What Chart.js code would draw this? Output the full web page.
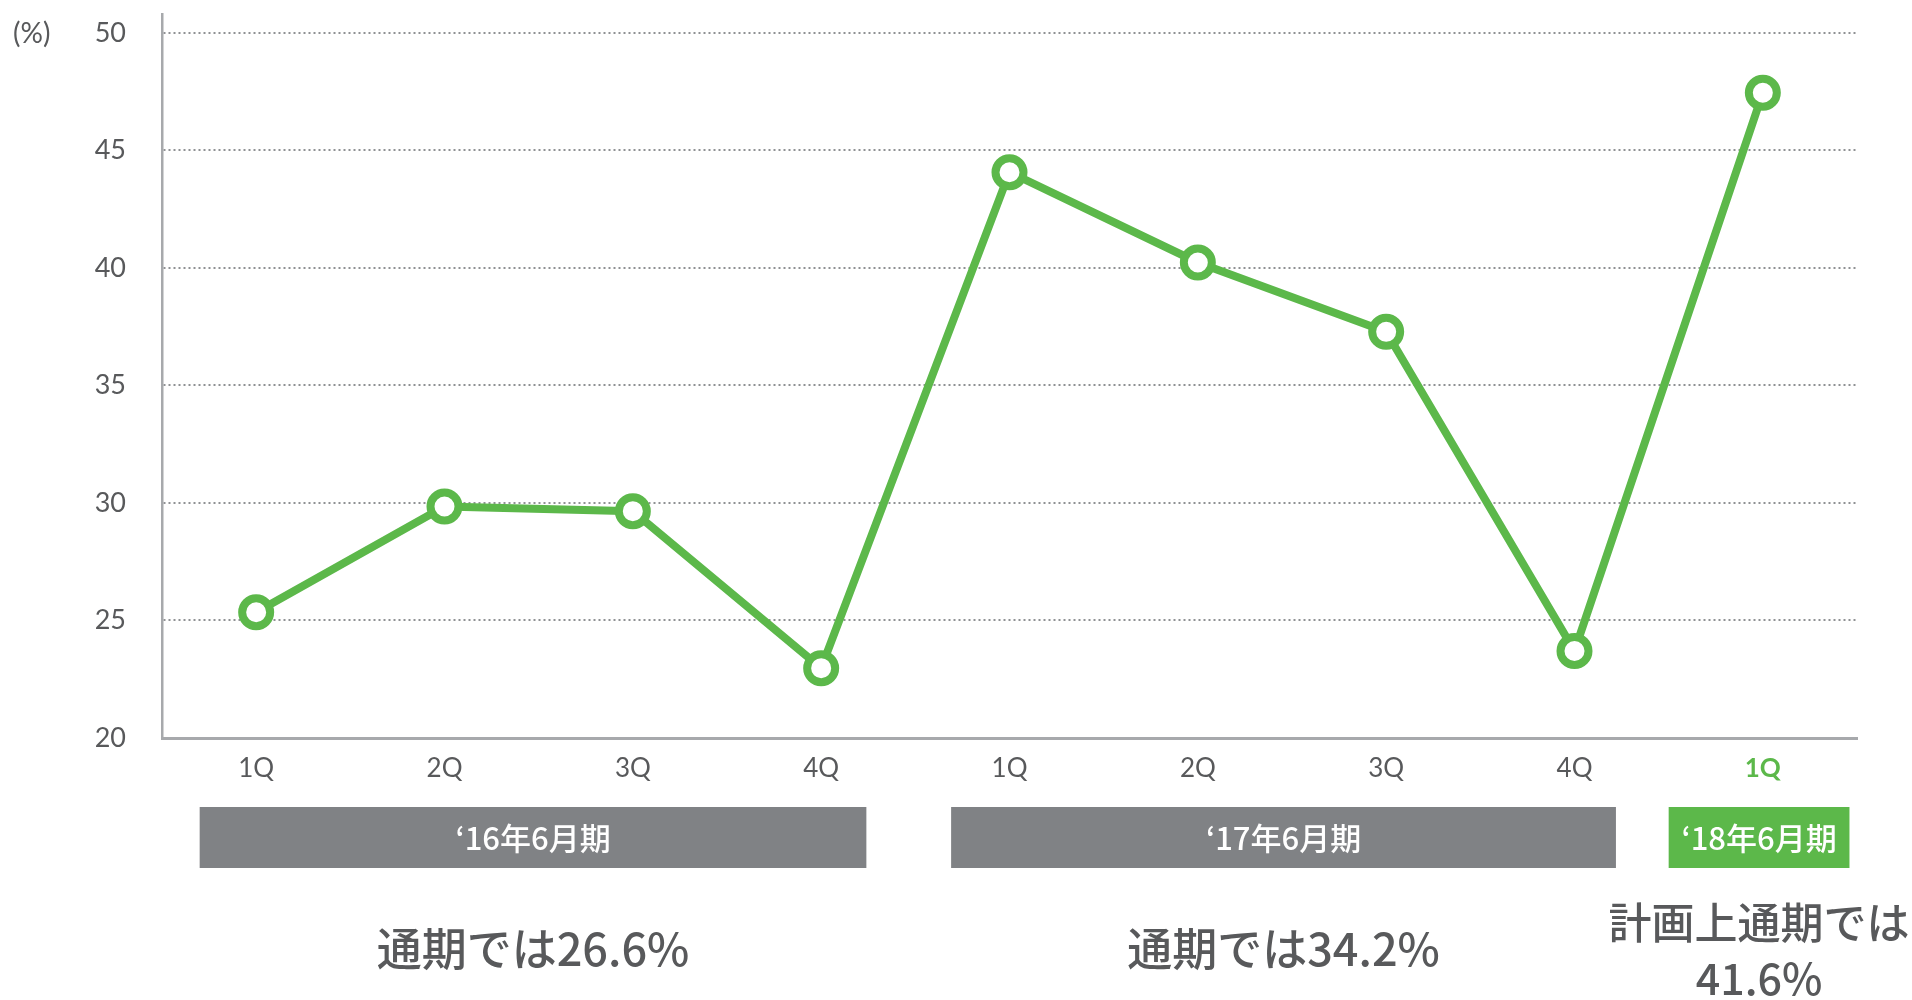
<!DOCTYPE html>
<html>
<head>
<meta charset="utf-8">
<script src="https://cdn.jsdelivr.net/npm/chart.js@4"></script>
<style>
  html, body { margin: 0; padding: 0; background: #fff; }
  #wrap { width: 1912px; height: 1000px; position: relative; }
</style>
</head>
<body>
<div id="wrap"><canvas id="ratioChart"></canvas></div>
<script>
// quarters and values (%)
const quarters = ['1Q', '2Q', '3Q', '4Q', '1Q', '2Q', '3Q', '4Q', '1Q'];
const ratios = [25.35, 29.85, 29.65, 22.97, 44.07, 40.23, 37.28, 23.7, 47.45];
const yTicks = [20, 25, 30, 35, 40, 45, 50];

// fiscal year groups under the axis
const groupLabels = ['‘16年6月期', '‘17年6月期', '‘18年6月期'];
const groupFirst = [0, 4, 8];
const groupLast = [3, 7, 8];
const groupSummary = [['通期では26.6%'], ['通期では34.2%'], ['計画上通期では', '41.6%']];

const GREEN = '#5cb84a';
const GREY_TEXT = '#58595b';
const JP = "'Noto Sans CJK JP', 'Noto Sans', sans-serif";
const LAT = "Lato, 'Noto Sans', sans-serif";

const groupsPlugin = {
    id: 'groups',
    afterDraw(chart) {
        const ctx = chart.ctx;
        const x = chart.scales.x;
        const area = chart.chartArea;
        const w = x.getPixelForValue(1) - x.getPixelForValue(0);
        const padL = [0.3, 0.31, 0.5];  // box overhang left of first quarter
        const padR = [0.24, 0.22, 0.46];

        ctx.save();
        groupLabels.forEach((lbl, i) => {
            const left = x.getPixelForValue(groupFirst[i]) - w * padL[i];
            const right = x.getPixelForValue(groupLast[i]) + w * padR[i];
            const top = area.bottom + 69;
            const h = 61;
            const last = i === groupLabels.length - 1;
            ctx.fillStyle = last ? GREEN : '#808285';
            ctx.fillRect(left, top, right - left, h);

            const cx = (left + right) / 2;
            ctx.fillStyle = '#fff';
            ctx.textAlign = 'center';
            ctx.textBaseline = 'middle';
            ctx.font = '500 31px ' + JP;
            ctx.fillText(lbl, cx, top + h / 2 + 1);

            // summary line(s) underneath
            ctx.fillStyle = GREY_TEXT;
            const lines = groupSummary[i];
            ctx.font = '500 ' + (lines.length === 1 ? 45 : 43) + 'px ' + JP;
            const y0 = lines.length === 1 ? 949 : 923;
            lines.forEach((t, j) => ctx.fillText(t, cx, y0 + j * 56));
        });

        // unit label
        ctx.fillStyle = GREY_TEXT;
        ctx.font = '28px ' + LAT;
        ctx.textAlign = 'left';
        ctx.fillText('(%)', 13, chart.scales.y.getPixelForValue(50) + 1);
        ctx.restore();
    }
};

new Chart('ratioChart', {
    type: 'line',
    data: {
        labels: quarters,
        datasets: [{
            data: ratios,
            borderColor: GREEN,
            borderWidth: 8,
            pointRadius: 14,
            pointHoverRadius: 14,
            pointBorderWidth: 8,
            pointBackgroundColor: '#fff',
            pointBorderColor: GREEN,
            tension: 0,
            clip: false,
        }]
    },
    options: {
        responsive: true,
        maintainAspectRatio: false,
        animation: false,
        layout: { autoPadding: false, padding: { top: 14, right: 55, left: 0, bottom: 0 } },
        plugins: {
            legend: { display: false },
            tooltip: { enabled: false },
        },
        scales: {
            x: {
                offset: true,
                grid: { display: false, drawTicks: false },
                border: { display: true, color: '#a7a9ac', width: 3 },
                ticks: {
                    padding: 15,
                    color: (c) => c.index === quarters.length - 1 ? GREEN : GREY_TEXT,
                    font: (c) => ({ family: LAT, size: 26, weight: c.index === quarters.length - 1 ? 'bold' : 'normal' }),
                },
                afterFit: (s) => { s.height = 262; },
            },
            y: {
                min: 20,
                max: 50.8,
                afterBuildTicks: (s) => { s.ticks = yTicks.map(v => ({ value: v })); },
                grid: {
                    drawTicks: true,
                    tickLength: 34,          // invisible ticks push labels left
                    tickColor: 'rgba(0,0,0,0)',
                    color: (c) => c.tick.value === 20 ? 'rgba(0,0,0,0)' : '#8f9194',
                    lineWidth: 2,
                },
                border: { display: true, color: '#a7a9ac', width: 2.5, dash: [2, 3] },
                ticks: {
                    padding: 2,
                    color: GREY_TEXT,
                    font: { family: LAT, size: 27 },
                },
                afterFit: (s) => {
                    s.width = 162;
                    s.paddingTop = 0;   // let the axis run up to the top padding
                    s.paddingBottom = 0;
                },
            }
        }
    },
    plugins: [groupsPlugin]
});
</script>
</body>
</html>
